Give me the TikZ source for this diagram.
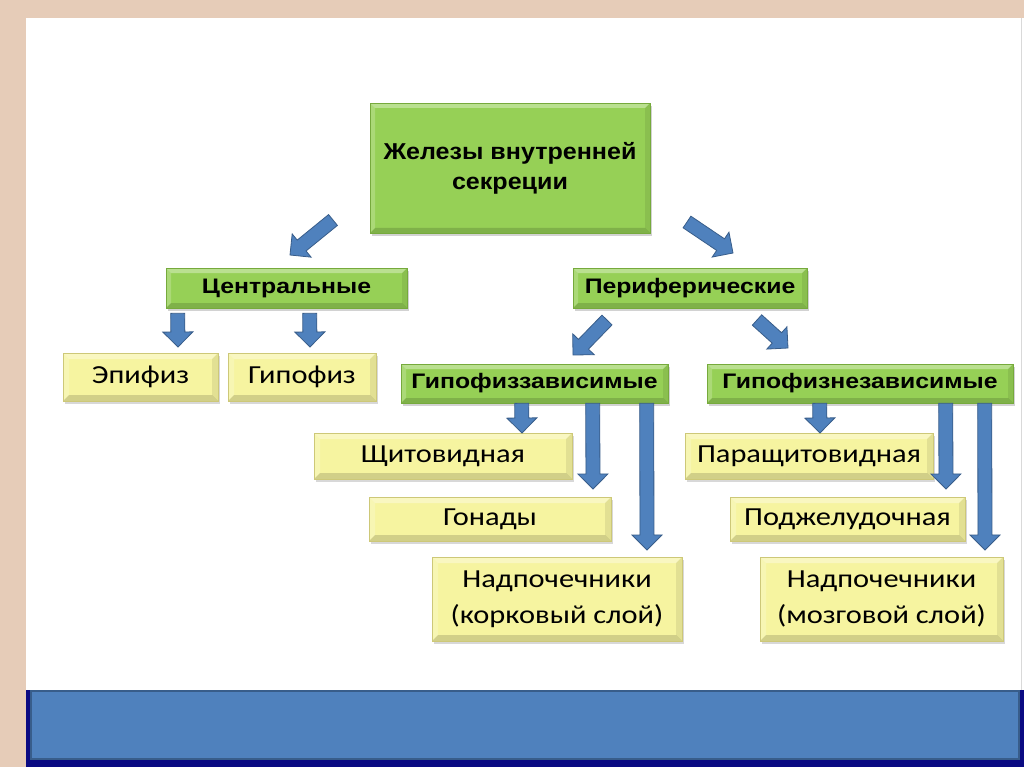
\documentclass[tikz,border=0pt]{standalone}
\usepackage{fontspec}
\setmainfont{Liberation Sans}
\newfontfamily\gfont[FakeStretch=1.18]{Liberation Sans}
\newfontfamily\tfont[FakeStretch=1.09]{Liberation Sans}
\newfontfamily\calib[FakeStretch=1.17]{Carlito}
\usetikzlibrary{calc,shadows}
\definecolor{beige}{RGB}{230,204,184}
\definecolor{gfill}{RGB}{150,208,86}
\definecolor{gline}{RGB}{118,170,60}
\definecolor{yfill}{RGB}{246,244,160}
\definecolor{yline}{RGB}{205,200,120}
\definecolor{afill}{RGB}{79,129,189}
\definecolor{aline}{RGB}{56,93,138}
\definecolor{navy}{RGB}{10,10,130}
\tikzset{
 bevel/.style={path picture={
  \fill[white,opacity=.35] (path picture bounding box.north west) -- (path picture bounding box.north east) -- ([shift={(-#1,-#1)}]path picture bounding box.north east) -- ([shift={(#1,-#1)}]path picture bounding box.north west) -- cycle;
  \fill[white,opacity=.2] (path picture bounding box.north west) -- ([shift={(#1,-#1)}]path picture bounding box.north west) -- ([shift={(#1,#1)}]path picture bounding box.south west) -- (path picture bounding box.south west) -- cycle;
  \fill[black,opacity=.15] (path picture bounding box.south west) -- (path picture bounding box.south east) -- ([shift={(-#1,#1)}]path picture bounding box.south east) -- ([shift={(#1,#1)}]path picture bounding box.south west) -- cycle;
  \fill[black,opacity=.08] (path picture bounding box.north east) -- ([shift={(-#1,-#1)}]path picture bounding box.north east) -- ([shift={(-#1,#1)}]path picture bounding box.south east) -- (path picture bounding box.south east) -- cycle;
 }},
 gbox/.style={draw=gline, line width=0.6pt, fill=gfill, bevel=5pt, inner sep=0pt,
   drop shadow={opacity=0.35,shadow xshift=2pt,shadow yshift=-3pt},
   font=\gfont\bfseries\fontsize{21}{25}\selectfont, align=center},
 ybox/.style={draw=yline, line width=0.6pt, fill=yfill, bevel=6pt, inner sep=0pt,
   drop shadow={opacity=0.3,shadow xshift=2pt,shadow yshift=-3pt},
   font=\calib\fontsize{26}{36}\selectfont, align=center},
 barrowsty/.style={fill=afill, draw=aline, line width=0.8pt, line join=miter},
}
\newcommand{\barrow}[2]{%
 \coordinate (ba-n) at ($(#2)!15pt!(#1)$);
 \filldraw[barrowsty] ($(#1)!7pt!90:(#2)$) -- ($(ba-n)!7pt!90:(#2)$) -- ($(ba-n)!15pt!90:(#2)$) -- (#2)
   -- ($(ba-n)!15pt!-90:(#2)$) -- ($(ba-n)!7pt!-90:(#2)$) -- ($(#1)!7pt!-90:(#2)$) -- cycle;}
\begin{document}
\begin{tikzpicture}[x=1pt,y=-1pt]
\useasboundingbox (0,0) rectangle (1024,767);
% frame
\fill[beige] (0,0) rectangle (1024,767);
\fill[white] (26,18) rectangle (1024,767);
\draw[gray!30] (1021,18) -- (1021,690);
% bottom bar
\fill[navy] (26,690) rectangle (1024,767);
\filldraw[fill=afill, draw=aline, line width=1.5pt] (31,691) rectangle (1019,759);
% nodes
\node[gbox, minimum width=280pt, minimum height=130pt, font=\tfont\bfseries\fontsize{23}{30}\selectfont] (top) at (510,168) {Железы внутренней\\секреции};
\node[gbox, minimum width=241pt, minimum height=40pt] (cen) at (286.5,288) {Центральные};
\node[gbox, minimum width=234pt, minimum height=40pt] (per) at (690,288) {Периферические};
\node[ybox, minimum width=155pt, minimum height=48pt] (epi) at (140.5,377) {Эпифиз};
\node[ybox, minimum width=148pt, minimum height=48pt] (gip) at (302,377) {Гипофиз};
\node[gbox, minimum width=267pt, minimum height=39pt] (gz) at (534.5,383.5) {Гипофиззависимые};
\node[gbox, minimum width=306pt, minimum height=39pt] (gnz) at (860,383.5) {Гипофизнезависимые};
\node[ybox, minimum width=258pt, minimum height=46pt] (shch) at (443,456) {Щитовидная};
\node[ybox, minimum width=242pt, minimum height=44pt] (gon) at (490,519) {Гонады};
\node[ybox, minimum width=250pt, minimum height=84pt] (nk) at (557,599) {Надпочечники\\(корковый слой)};
\node[ybox, minimum width=248pt, minimum height=46pt] (par) at (809,456) {Паращитовидная};
\node[ybox, minimum width=235pt, minimum height=44pt] (pod) at (847.5,519) {Поджелудочная};
\node[ybox, minimum width=243pt, minimum height=84pt] (nm) at (881.5,599) {Надпочечники\\(мозговой слой)};
% arrow end points
\coordinate (a1s) at (333,220); \coordinate (a1e) at (290,255);
\coordinate (a2s) at (687,222); \coordinate (a2e) at (733,253);
\coordinate (a3s) at ([xshift=12pt,yshift=-5pt]cen.south west); \coordinate (a3e) at (178,347);
\coordinate (a4s) at ([xshift=144pt,yshift=-5pt]cen.south west); \coordinate (a4e) at (310,347);
\coordinate (a5s) at (607,320); \coordinate (a5e) at (573,355);
\coordinate (a6s) at (757,320); \coordinate (a6e) at (788,348);
\coordinate (b1s) at ([xshift=121pt]gz.south west); \coordinate (b1e) at (522,433);
\coordinate (b2s) at ([xshift=192pt]gz.south west); \coordinate (b2e) at (593,489);
\coordinate (b3s) at ([xshift=246pt]gz.south west); \coordinate (b3e) at (647,550);
\coordinate (c1s) at ([xshift=113pt]gnz.south west); \coordinate (c1e) at (820,433);
\coordinate (c2s) at ([xshift=239pt]gnz.south west); \coordinate (c2e) at (946,489);
\coordinate (c3s) at ([xshift=278pt]gnz.south west); \coordinate (c3e) at (985,550);
\barrow{a1s}{a1e}
\barrow{a2s}{a2e}
\barrow{a3s}{a3e}
\barrow{a4s}{a4e}
\barrow{a5s}{a5e}
\barrow{a6s}{a6e}
\barrow{b1s}{b1e}
\barrow{b2s}{b2e}
\barrow{b3s}{b3e}
\barrow{c1s}{c1e}
\barrow{c2s}{c2e}
\barrow{c3s}{c3e}
\end{tikzpicture}
\end{document}
